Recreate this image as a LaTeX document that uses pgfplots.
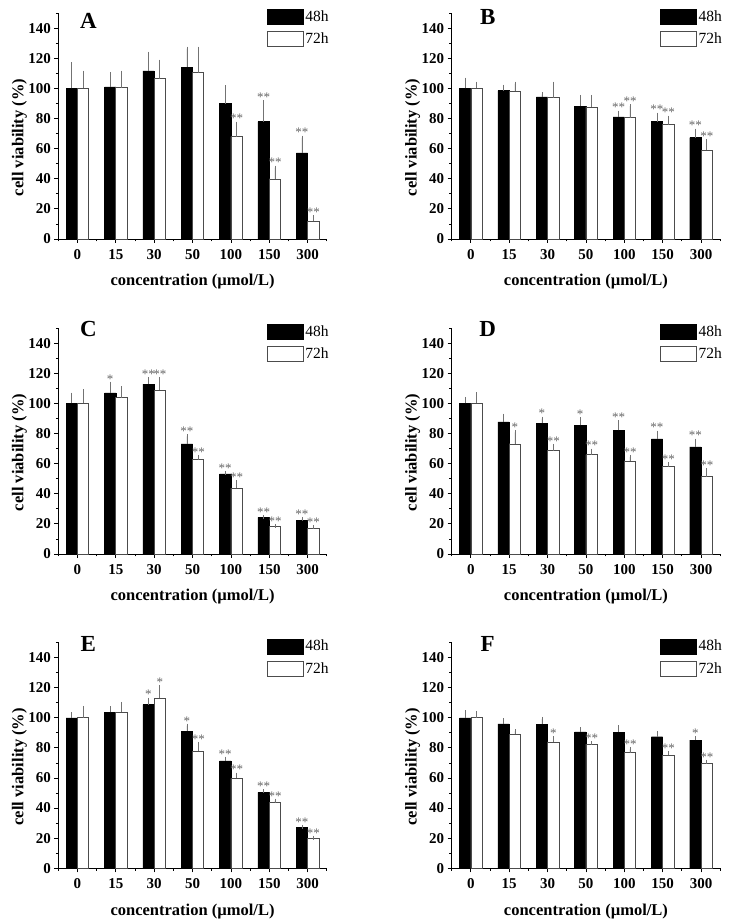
\documentclass[border=0pt]{standalone}
\usepackage{fontspec}
\setmainfont{Liberation Serif}
\usepackage{pgfplots}
\usepackage{pgfplotstable}
\pgfplotsset{compat=1.18}

\pgfplotstableread{
x b be w we
0 100 16 100 10.5
1 101 8.4 100.6 9.9
2 111.7 11.5 106.6 11.3
3 114.1 12.4 110.5 16
4 90 10.8 68 8.7
5 78 12.8 39.9 7.5
6 57.2 10.1 11.7 2.7
}\dataA
\pgfplotstableread{
x b be w we
0 100 5.9 100 3.2
1 98.6 2.6 98.1 5.1
2 94.4 1.7 93.9 9.3
3 88.2 6.2 87.7 6.7
4 81.1 2.9 80.6 7.6
5 78 4.6 76 4.6
6 67.3 4.7 59.1 6
}\dataB
\pgfplotstableread{
x b be w we
0 100 5.8 100 8
1 107.1 6 103.8 6.4
2 112.8 3.6 108.9 7.5
3 73.1 5.1 62.7 1.6
4 53.2 0.7 43.7 4
5 24.3 0.4 18.1 0.4
6 22.5 0.9 17 0.9
}\dataC
\pgfplotstableread{
x b be w we
0 100 3.1 100 6
1 87.7 4.2 73.1 7.7
2 86.8 3.1 68.7 3.1
3 85.5 3.9 66 2.7
4 82.1 5.3 61.8 2.7
5 76.4 4.2 58.1 1.5
6 71.1 4.2 51.4 4.2
}\dataD
\pgfplotstableread{
x b be w we
0 100 2.2 100 6.6
1 103.5 2.7 103.5 5.8
2 108.8 3.3 112.8 7.7
3 91.1 3.6 77.9 4.8
4 71.4 1.4 59.7 2.5
5 50.4 0.9 43.8 1.1
6 27 0.6 19.9 0.4
}\dataE
\pgfplotstableread{
x b be w we
0 100 3.7 100 3.2
1 96 2.2 88.9 2
2 95.6 3.7 84 2.3
3 90.7 1.8 82.5 0.7
4 90.5 3.1 76.8 2.2
5 87.4 2.2 75 1.3
6 85.2 1.5 69.9 0.9
}\dataF

\pgfplotsset{
 panel/.style={
  scale only axis, width=268.5pt, height=225.8pt,
  xmin=-0.5, xmax=6.5, ymin=0, ymax=150,
  axis x line=bottom, axis y line=left,
  axis line style={-, line width=0.9pt},
  tick align=outside,
  major tick length=4pt, minor tick length=2.5pt,
  every tick/.style={black, line width=0.8pt},
  xtick={0,...,6}, xticklabels={0,15,30,50,100,150,300},
  minor xtick={-0.5,0.5,...,6.5},
  ytick={0,20,...,140}, minor ytick={10,30,...,150},
  /pgf/number format/assume math mode=true,
  tick label style={font=\fontsize{15}{15}\selectfont\bfseries},
  xticklabel style={yshift=-3pt},
  xlabel={concentration (µmol/L)}, ylabel={cell viability (\%)},
  label style={font=\fontsize{16.5}{16.5}\selectfont\bfseries},
  xlabel style={at={(axis description cs:0.5,-0.19)}, anchor=center},
  ylabel style={at={(axis description cs:-0.145,0.45)}, anchor=center},
  bar width=11.3pt,
  legend style={draw=none, fill=none, at={(axis description cs:0.775,1.02)},
    anchor=north west, inner sep=0pt, row sep=6pt,
    font=\fontsize{15.5}{15.5}\selectfont, legend cell align=left},
  clip=false,
 },
 b48/.style={ybar, fill=black, draw=black, line width=0.4pt, bar shift=-5.65pt,
   error bars/y dir=plus, error bars/y explicit,
   error bars/error bar style={xshift=-5.65pt, black!55, line width=0.7pt},
   error bars/error mark options={black!55, mark size=2pt, line width=0.7pt}},
 w72/.style={ybar, fill=white, draw=black!70, line width=0.7pt, bar shift=5.65pt,
   error bars/y dir=plus, error bars/y explicit,
   error bars/error bar style={xshift=5.65pt, black!55, line width=0.7pt},
   error bars/error mark options={black!55, mark size=2pt, line width=0.7pt}},
 leg48/.style={legend image code/.code={\draw[fill=black,draw=black] (0pt,-7.5pt) rectangle (36pt,7.5pt);}},
 leg72/.style={legend image code/.code={\draw[fill=white,draw=black!70,line width=0.7pt] (0pt,-7.5pt) rectangle (36pt,7.5pt);}},
}
\tikzset{star/.style={anchor=south, inner sep=0.5pt, text=black!60, font=\fontsize{13}{13}\selectfont}}
\newcommand{\st}[3]{\node[star] at (axis cs:#1,#2) {#3};}
\newcommand{\plbl}[3]{\node[anchor=center, font=\fontsize{23}{23}\selectfont\bfseries] at (axis description cs:#1,#2) {#3};}
\newcommand{\legs}{%
  \addlegendimage{leg48}\addlegendentry{48h}
  \addlegendimage{leg72}\addlegendentry{72h}}

\begin{document}
\begin{tikzpicture}
\useasboundingbox (0,0) rectangle (730pt,923pt);

% A
\begin{axis}[panel, at={(58.3pt,684pt)}, anchor=south west]
\legs
\addplot[b48, forget plot] table[x=x,y=b,y error=be]{\dataA};
\addplot[w72, forget plot] table[x=x,y=w,y error=we]{\dataA};
\plbl{0.112}{0.965}{A}
\st{4.15}{76.7}{**}\st{4.85}{90.8}{**}\st{5.15}{47.4}{**}\st{5.85}{67.3}{**}\st{6.15}{14.4}{**}
\end{axis}

% B
\begin{axis}[panel, at={(451.7pt,684pt)}, anchor=south west]
\legs
\addplot[b48, forget plot] table[x=x,y=b,y error=be]{\dataB};
\addplot[w72, forget plot] table[x=x,y=w,y error=we]{\dataB};
\plbl{0.134}{0.983}{B}
\st{3.85}{84}{**}\st{4.15}{88.2}{**}\st{4.85}{82.6}{**}\st{5.15}{80.6}{**}\st{5.85}{72}{**}\st{6.15}{65.1}{**}
\end{axis}

% C
\begin{axis}[panel, at={(58.3pt,369pt)}, anchor=south west]
\legs
\addplot[b48, forget plot] table[x=x,y=b,y error=be]{\dataC};
\addplot[w72, forget plot] table[x=x,y=w,y error=we]{\dataC};
\plbl{0.112}{0.996}{C}
\st{0.85}{113.1}{*}\st{1.85}{116.4}{**}\st{2.15}{116.4}{**}\st{2.85}{78.2}{**}\st{3.15}{64.3}{**}
\st{3.85}{53.9}{**}\st{4.15}{47.7}{**}\st{4.85}{24.7}{**}\st{5.15}{18.5}{**}\st{5.85}{23.4}{**}\st{6.15}{17.9}{**}
\end{axis}

% D
\begin{axis}[panel, at={(451.7pt,369pt)}, anchor=south west]
\legs
\addplot[b48, forget plot] table[x=x,y=b,y error=be]{\dataD};
\addplot[w72, forget plot] table[x=x,y=w,y error=we]{\dataD};
\plbl{0.134}{0.996}{D}
\st{1.15}{80.8}{*}\st{1.85}{89.9}{*}\st{2.15}{71.8}{**}\st{2.85}{89.4}{*}\st{3.15}{68.7}{**}
\st{3.85}{87.4}{**}\st{4.15}{64.5}{**}\st{4.85}{80.6}{**}\st{5.15}{59.6}{**}\st{5.85}{75.3}{**}\st{6.15}{55.6}{**}
\end{axis}

% E
\begin{axis}[panel, at={(58.3pt,54.7pt)}, anchor=south west]
\legs
\addplot[b48, forget plot] table[x=x,y=b,y error=be]{\dataE};
\addplot[w72, forget plot] table[x=x,y=w,y error=we]{\dataE};
\plbl{0.112}{0.992}{E}
\st{1.85}{112.1}{*}\st{2.15}{120.5}{*}\st{2.85}{94.7}{*}\st{3.15}{82.7}{**}\st{3.85}{72.8}{**}
\st{4.15}{62.2}{**}\st{4.85}{51.3}{**}\st{5.15}{44.9}{**}\st{5.85}{27.6}{**}\st{6.15}{20.3}{**}
\end{axis}

% F
\begin{axis}[panel, at={(451.7pt,54.7pt)}, anchor=south west]
\legs
\addplot[b48, forget plot] table[x=x,y=b,y error=be]{\dataF};
\addplot[w72, forget plot] table[x=x,y=w,y error=we]{\dataF};
\plbl{0.134}{0.992}{F}
\st{2.15}{86.3}{*}\st{3.15}{83.2}{**}\st{4.15}{79}{**}\st{5.15}{76.3}{**}\st{5.85}{86.7}{*}\st{6.15}{70.8}{**}
\end{axis}
\end{tikzpicture}
\end{document}
